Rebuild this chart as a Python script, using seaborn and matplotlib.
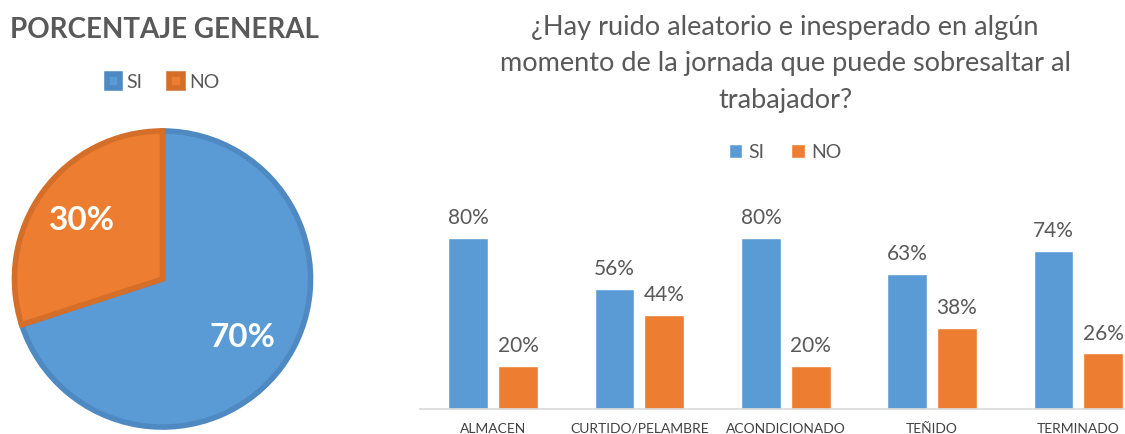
import pandas as pd
import matplotlib
matplotlib.use("Agg")
import matplotlib.pyplot as plt
import seaborn as sns

# data
pie_labels = ["SI", "NO"]
pie_values = [70, 30]

areas = ["ALMACEN", "CURTIDO/PELAMBRE", "ACONDICIONADO", "TEÑIDO", "TERMINADO"]
si_values = [80, 56, 80, 63, 74]
no_values = [20, 44, 20, 38, 26]

blue = "#5B9BD5"
orange = "#ED7D31"
blue_edge = "#4E89C2"
orange_edge = "#D46E29"
gray = "#595959"

sns.set_style("white")
plt.rcParams["font.family"] = ["Lato", "DejaVu Sans"]

W, H = 1125, 434
fig = plt.figure(figsize=(W / 100, H / 100), dpi=100)

# ---- pie: overall percentage ----
cx, cy, r = 162.5, 279, 151
ax_pie = fig.add_axes([(cx - r) / W, (H - cy - r) / H, 2 * r / W, 2 * r / H])
wedges, _, autotexts = ax_pie.pie(
    pie_values,
    colors=[blue, orange],
    startangle=90,
    counterclock=False,
    autopct=lambda p: f"{p:.0f}%",
    pctdistance=0.67,
    wedgeprops={"linewidth": 4},
    textprops={"color": "white", "fontsize": 24, "fontweight": "bold"},
)
for w, ec in zip(wedges, [blue_edge, orange_edge]):
    w.set_edgecolor(ec)
    w.set_clip_on(False)
ax_pie.set_xlim(-1.02, 1.02)
ax_pie.set_ylim(-1.02, 1.02)

fig.text(10 / W, 1 - 30 / H, "PORCENTAJE GENERAL", ha="left", va="center",
         fontsize=20, fontweight="bold", color=gray)
fig.legend(wedges, pie_labels, loc="center", bbox_to_anchor=(163 / W, 1 - 82 / H),
           ncol=2, frameon=False, fontsize=14, labelcolor=gray,
           handlelength=0.7, handleheight=0.7, handletextpad=0.3, columnspacing=1.4)

# ---- bars: by area ----
df = pd.DataFrame({
    "area": areas * 2,
    "respuesta": ["SI"] * len(areas) + ["NO"] * len(areas),
    "valor": si_values + no_values,
})

ax = fig.add_axes([420 / W, (H - 409) / H, 731.5 / W, 214 / H])
sns.barplot(data=df, x="area", y="valor", hue="respuesta", hue_order=pie_labels,
            palette={"SI": blue, "NO": orange}, saturation=1,
            width=0.68, gap=0.2, ax=ax)
ax.set_ylim(0, 100)
ax.set_xlim(-0.5, 4.5)
for cont, vals in zip(ax.containers, [si_values, no_values]):
    ax.bar_label(cont, labels=[f"{v}%" for v in vals], padding=7,
                 fontsize=15, color=gray)

for side in ["left", "right", "top"]:
    ax.spines[side].set_visible(False)
ax.spines["bottom"].set_color("#D9D9D9")
ax.spines["bottom"].set_linewidth(1.2)
ax.set_yticks([])
ax.set_xlabel("")
ax.set_ylabel("")
ax.tick_params(axis="x", length=0, labelsize=10, labelcolor="#404040", pad=10)

handles, labels = ax.get_legend_handles_labels()
ax.legend(handles, labels, loc="center", bbox_to_anchor=(785 / W, 1 - 152 / H),
          bbox_transform=fig.transFigure, ncol=2, frameon=False, fontsize=14,
          labelcolor=gray, handlelength=0.7, handleheight=0.7,
          handletextpad=0.3, columnspacing=1.4)

fig.text(785 / W, 1 - 64 / H,
         "¿Hay ruido aleatorio e inesperado en algún\n"
         "momento de la jornada que puede sobresaltar al\n"
         "trabajador?",
         ha="center", va="center", fontsize=19.5, color=gray, linespacing=1.58)

fig.savefig("out.png", dpi=100, facecolor="white")
